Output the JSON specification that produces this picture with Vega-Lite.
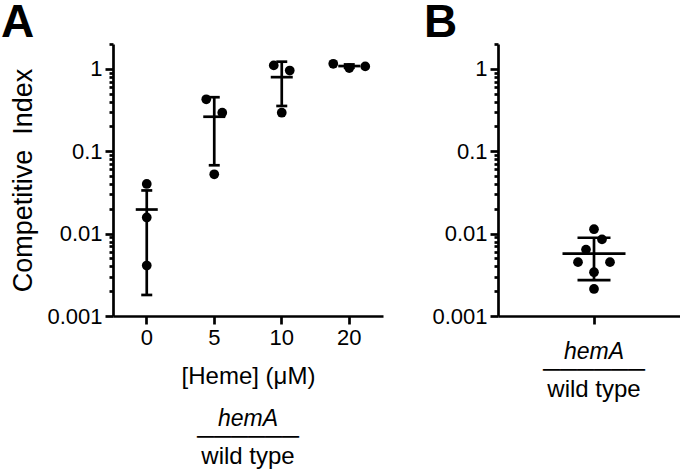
{
  "$schema": "https://vega.github.io/schema/vega-lite/v6.json",
  "background": "white",
  "padding": 0,
  "spacing": 40,
  "resolve": {"scale": {"xOffset": "independent", "x": "independent", "y": "independent"}},
  "config": {
    "view": {"stroke": null},
    "font": "Liberation Sans",
    "axis": {
      "domainColor": "black", "domainWidth": 2.7, "tickColor": "black", "tickWidth": 2.7,
      "labelColor": "black", "titleColor": "black", "labelFont": "Liberation Sans", "titleFont": "Liberation Sans",
      "labelFontSize": 22, "grid": false, "titleFontWeight": "normal", "labelOverlap": false, "labelFlush": false
    }
  },
  "datasets": {
    "a_pts": [
      {"heme": "0", "ci": 0.040, "lane": 0},
      {"heme": "0", "ci": 0.0157, "lane": 0},
      {"heme": "0", "ci": 0.0041, "lane": 0},
      {"heme": "5", "ci": 0.427, "lane": -1},
      {"heme": "5", "ci": 0.293, "lane": 1},
      {"heme": "5", "ci": 0.0525, "lane": 0},
      {"heme": "10", "ci": 1.10, "lane": -1},
      {"heme": "10", "ci": 0.953, "lane": 1},
      {"heme": "10", "ci": 0.293, "lane": 0},
      {"heme": "20", "ci": 1.15, "lane": -2},
      {"heme": "20", "ci": 1.02, "lane": 0},
      {"heme": "20", "ci": 1.07, "lane": 2}
    ],
    "a_sum": [
      {"heme": "0", "mean": 0.0196, "lo": 0.0018, "hi": 0.0334},
      {"heme": "5", "mean": 0.262, "lo": 0.0675, "hi": 0.452},
      {"heme": "10", "mean": 0.792, "lo": 0.354, "hi": 1.22},
      {"heme": "20", "mean": 1.08, "lo": 1.03, "hi": 1.13}
    ],
    "b_pts": [
      {"strain": "hemA/wild type", "ci": 0.0113, "lane": 0},
      {"strain": "hemA/wild type", "ci": 0.0085, "lane": 1},
      {"strain": "hemA/wild type", "ci": 0.0064, "lane": -1},
      {"strain": "hemA/wild type", "ci": 0.0045, "lane": -2},
      {"strain": "hemA/wild type", "ci": 0.0045, "lane": 2},
      {"strain": "hemA/wild type", "ci": 0.0034, "lane": 0},
      {"strain": "hemA/wild type", "ci": 0.00213, "lane": 0}
    ],
    "b_sum": [
      {"strain": "hemA/wild type", "mean": 0.0057, "lo": 0.00272, "hi": 0.0089}
    ]
  },
  "hconcat": [
    {
      "title": {"text": "A", "anchor": "start", "frame": "bounds", "fontSize": 46, "fontWeight": "bold", "color": "black", "font": "Liberation Sans", "dx": -9, "offset": -14},
      "vconcat": [
        {
          "width": 270,
          "height": 272,
          "title": {
            "text": "hemA", "subtitle": ["──────", "wild type"], "orient": "bottom", "anchor": "middle", "frame": "group",
            "font": "Liberation Sans", "fontSize": 23, "fontStyle": "italic", "fontWeight": "normal", "color": "black",
            "subtitleFont": "Liberation Sans", "subtitleFontSize": 24, "subtitleColor": "black", "subtitleLineHeight": 20, "subtitlePadding": -6, "offset": 20
          },
          "layer": [
            {
              "data": {"name": "a_pts"},
              "mark": {"type": "circle", "size": 95, "color": "black", "opacity": 1},
              "encoding": {
                "x": {"field": "heme", "type": "nominal", "sort": ["0", "5", "10", "20"], "scale": {"type": "band", "paddingInner": 0, "paddingOuter": 0},
                  "axis": {"labelAngle": 0, "tickSize": 8, "labelPadding": 3, "labelFontSize": 22, "title": "[Heme] (μM)", "titleFontSize": 24, "titlePadding": 16}},
                "xOffset": {"field": "lane", "type": "quantitative", "scale": {"domain": [-4.22, 4.22], "range": [0, 67.5]}},
                "y": {"field": "ci", "type": "quantitative", "scale": {"type": "log", "domain": [0.001, 2], "nice": false},
                  "axis": {
                    "values": [0.001, 0.002, 0.003, 0.004, 0.005, 0.006, 0.007, 0.008, 0.009, 0.01, 0.02, 0.03, 0.04, 0.05, 0.06, 0.07, 0.08, 0.09, 0.1, 0.2, 0.3, 0.4, 0.5, 0.6, 0.7, 0.8, 0.9, 1, 2],
                    "labelExpr": "abs(log(datum.value)/LN10 - round(log(datum.value)/LN10)) < 0.0001 ? format(datum.value, '~g') : ''",
                    "tickSize": {"condition": {"test": "abs(log(datum.value)/LN10 - round(log(datum.value)/LN10)) < 0.0001", "value": 8}, "value": 4},
                    "labelPadding": 3, "labelFontSize": 22,
                    "title": "Competitive\u00a0 Index", "titleFontSize": 27, "titlePadding": 9
                  }}
              }
            },
            {
              "data": {"name": "a_sum"},
              "mark": {"type": "rule", "color": "black", "strokeWidth": 2.7},
              "encoding": {
                "x": {"field": "heme", "type": "nominal", "sort": ["0", "5", "10", "20"]},
                "y": {"field": "lo", "type": "quantitative"},
                "y2": {"field": "hi"}
              }
            },
            {
              "data": {"name": "a_sum"},
              "mark": {"type": "tick", "color": "black", "size": 22, "thickness": 2.7, "opacity": 1},
              "encoding": {
                "x": {"field": "heme", "type": "nominal", "sort": ["0", "5", "10", "20"]},
                "y": {"field": "mean", "type": "quantitative"}
              }
            },
            {
              "data": {"name": "a_sum"},
              "mark": {"type": "tick", "color": "black", "size": 11, "thickness": 2.7, "opacity": 1},
              "encoding": {
                "x": {"field": "heme", "type": "nominal", "sort": ["0", "5", "10", "20"]},
                "y": {"field": "lo", "type": "quantitative"}
              }
            },
            {
              "data": {"name": "a_sum"},
              "mark": {"type": "tick", "color": "black", "size": 11, "thickness": 2.7, "opacity": 1},
              "encoding": {
                "x": {"field": "heme", "type": "nominal", "sort": ["0", "5", "10", "20"]},
                "y": {"field": "hi", "type": "quantitative"}
              }
            }
          ]
        }
      ]
    },
    {
      "title": {"text": "B", "anchor": "start", "frame": "bounds", "fontSize": 46, "fontWeight": "bold", "color": "black", "font": "Liberation Sans", "dx": -8, "offset": -14},
      "vconcat": [
        {
          "width": 192,
          "height": 272,
          "title": {
            "text": "hemA", "subtitle": ["──────", "wild type"], "orient": "bottom", "anchor": "middle", "frame": "group",
            "font": "Liberation Sans", "fontSize": 23, "fontStyle": "italic", "fontWeight": "normal", "color": "black",
            "subtitleFont": "Liberation Sans", "subtitleFontSize": 24, "subtitleColor": "black", "subtitleLineHeight": 20, "subtitlePadding": -6, "offset": 14
          },
          "layer": [
            {
              "data": {"name": "b_pts"},
              "mark": {"type": "circle", "size": 95, "color": "black", "opacity": 1},
              "encoding": {
                "x": {"field": "strain", "type": "nominal", "scale": {"type": "band", "paddingInner": 0, "paddingOuter": 0},
                  "axis": {"labels": false, "tickSize": 8, "title": null}},
                "xOffset": {"field": "lane", "type": "quantitative", "scale": {"domain": [-12, 12], "range": [0, 192]}},
                "y": {"field": "ci", "type": "quantitative", "scale": {"type": "log", "domain": [0.001, 2], "nice": false},
                  "axis": {
                    "values": [0.001, 0.002, 0.003, 0.004, 0.005, 0.006, 0.007, 0.008, 0.009, 0.01, 0.02, 0.03, 0.04, 0.05, 0.06, 0.07, 0.08, 0.09, 0.1, 0.2, 0.3, 0.4, 0.5, 0.6, 0.7, 0.8, 0.9, 1, 2],
                    "labelExpr": "abs(log(datum.value)/LN10 - round(log(datum.value)/LN10)) < 0.0001 ? format(datum.value, '~g') : ''",
                    "tickSize": {"condition": {"test": "abs(log(datum.value)/LN10 - round(log(datum.value)/LN10)) < 0.0001", "value": 8}, "value": 4},
                    "labelPadding": 3, "labelFontSize": 22,
                    "title": null
                  }}
              }
            },
            {
              "data": {"name": "b_sum"},
              "mark": {"type": "rule", "color": "black", "strokeWidth": 2.7},
              "encoding": {
                "x": {"field": "strain", "type": "nominal"},
                "y": {"field": "lo", "type": "quantitative"},
                "y2": {"field": "hi"}
              }
            },
            {
              "data": {"name": "b_sum"},
              "mark": {"type": "tick", "color": "black", "size": 63, "thickness": 2.7, "opacity": 1},
              "encoding": {
                "x": {"field": "strain", "type": "nominal"},
                "y": {"field": "mean", "type": "quantitative"}
              }
            },
            {
              "data": {"name": "b_sum"},
              "mark": {"type": "tick", "color": "black", "size": 33, "thickness": 2.7, "opacity": 1},
              "encoding": {
                "x": {"field": "strain", "type": "nominal"},
                "y": {"field": "lo", "type": "quantitative"}
              }
            },
            {
              "data": {"name": "b_sum"},
              "mark": {"type": "tick", "color": "black", "size": 33, "thickness": 2.7, "opacity": 1},
              "encoding": {
                "x": {"field": "strain", "type": "nominal"},
                "y": {"field": "hi", "type": "quantitative"}
              }
            }
          ]
        }
      ]
    }
  ]
}
